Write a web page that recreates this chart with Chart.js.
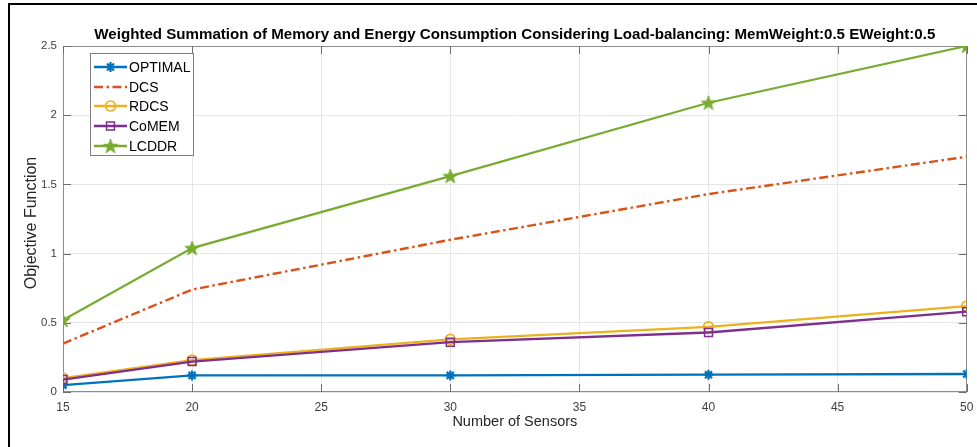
<!DOCTYPE html>
<html>
<head>
<meta charset="utf-8">
<script src="https://cdn.jsdelivr.net/npm/chart.js@4/dist/chart.umd.min.js"></script>
<style>
  html, body { margin: 0; padding: 0; background: #ffffff; }
  #wrap { position: relative; width: 977px; height: 447px; }
</style>
</head>
<body>
<div id="wrap"><canvas id="c" width="977" height="447"></canvas></div>
<script>
// Number of sensors on the x axis
const sensors = [15, 20, 30, 40, 50];
// Objective function values for each scheme
const optimal = [0.05, 0.12, 0.12, 0.125, 0.13];
const dcs     = [0.35, 0.74, 1.10, 1.43, 1.70];
const rdcs    = [0.10, 0.23, 0.38, 0.47, 0.62];
const comem   = [0.09, 0.22, 0.36, 0.43, 0.58];
const lcddr   = [0.52, 1.04, 1.56, 2.09, 2.50];
const seriesNames = ['OPTIMAL', 'DCS', 'RDCS', 'CoMEM', 'LCDDR'];
const xTicks = [15, 20, 25, 30, 35, 40, 45, 50];
const yTicks = [0, 0.5, 1, 1.5, 2, 2.5];

const titleText = 'Weighted Summation of Memory and Energy Consumption Considering Load-balancing: MemWeight:0.5 EWeight:0.5';
const xLabel = 'Number of Sensors';
const yLabel = 'Objective Function';
const FONT = '"Liberation Sans", Arial, Helvetica, sans-serif';

// filled five-pointed star marker
function makePentagram(size, color) {
  const cv = document.createElement('canvas');
  cv.width = size; cv.height = size;
  const g = cv.getContext('2d');
  const cx = size / 2, cy = size / 2 + 0.6;
  const R = size / 2 - 0.5, r = R * 0.4;
  g.beginPath();
  for (let i = 0; i < 10; i++) {
    const rad = i % 2 === 0 ? R : r;
    const a = -Math.PI / 2 + i * Math.PI / 5;
    const px = cx + rad * Math.cos(a), py = cy + rad * Math.sin(a);
    if (i === 0) g.moveTo(px, py); else g.lineTo(px, py);
  }
  g.closePath();
  g.fillStyle = color;
  g.fill();
  g.strokeStyle = color;
  g.lineWidth = 1;
  g.stroke();
  return cv;
}

const C_OPT = '#0072BD', C_DCS = '#D95319', C_RDCS = '#EDB120', C_COM = '#7E2F8E', C_LCD = '#77AC30';
const starImg = makePentagram(16, C_LCD);

function pts(vals) { return vals.map((v, i) => ({ x: sensors[i], y: v })); }

const datasets = [
  { label: seriesNames[0], data: pts(optimal), borderColor: C_OPT, backgroundColor: C_OPT,
    pointStyle: 'star', pointRadius: 5, pointBorderWidth: 2.2, borderWidth: 2.3, order: 4 },
  { label: seriesNames[1], data: pts(dcs), borderColor: C_DCS, backgroundColor: C_DCS,
    borderDash: [9, 3.5, 2.5, 3.5], pointRadius: 0, borderWidth: 2.4, order: 3 },
  { label: seriesNames[2], data: pts(rdcs), borderColor: C_RDCS, backgroundColor: 'rgba(0,0,0,0)',
    pointStyle: 'circle', pointRadius: 5, pointBorderWidth: 1.7, borderWidth: 2.3, order: 2 },
  { label: seriesNames[3], data: pts(comem), borderColor: C_COM, backgroundColor: 'rgba(0,0,0,0)',
    pointStyle: 'rect', pointRadius: 5.6, pointBorderWidth: 1.5, borderWidth: 2.3, order: 1 },
  { label: seriesNames[4], data: pts(lcddr), borderColor: C_LCD, backgroundColor: C_LCD,
    pointStyle: starImg, pointRadius: 8, borderWidth: 2.3, order: 0 }
];
datasets.forEach(d => { d.fill = false; d.tension = 0; d.pointHoverRadius = d.pointRadius; });

const AXIS = '#8c8c8c', TICKTXT = '#404040', GRID = '#e6e6e6';

const framePlugin = {
  id: 'frame',
  beforeDatasetsDraw(chart) {
    const { ctx, chartArea: a, scales } = chart;
    ctx.save();
    ctx.strokeStyle = AXIS;
    ctx.lineWidth = 1;
    // full axes box
    ctx.strokeRect(Math.round(a.left) + 0.5, Math.round(a.top) + 0.5,
                   Math.round(a.right - a.left) - 1, Math.round(a.bottom - a.top) - 1);
    // inward tick marks on all four sides
    ctx.strokeStyle = '#6e6e6e';
    const tl = 8;
    xTicks.forEach(v => {
      const x = Math.round(scales.x.getPixelForValue(v)) + 0.5;
      ctx.beginPath();
      ctx.moveTo(x, a.bottom); ctx.lineTo(x, a.bottom - tl);
      ctx.moveTo(x, a.top); ctx.lineTo(x, a.top + tl);
      ctx.stroke();
    });
    yTicks.forEach(v => {
      const y = Math.round(scales.y.getPixelForValue(v)) + 0.5;
      ctx.beginPath();
      ctx.moveTo(a.left, y); ctx.lineTo(a.left + tl, y);
      ctx.moveTo(a.right, y); ctx.lineTo(a.right - tl, y);
      ctx.stroke();
    });
    ctx.restore();
  },
  afterDraw(chart) {
    const { ctx, chartArea: a } = chart;
    ctx.save();
    // title, fitted across the plot
    ctx.font = 'bold 14px ' + FONT;
    ctx.fillStyle = '#000000';
    ctx.textBaseline = 'middle';
    ctx.textAlign = 'center';
    const tw = ctx.measureText(titleText).width;
    const target = 841;
    const cx = (a.left + a.right) / 2;
    ctx.save();
    ctx.translate(cx, 35);
    ctx.scale(target / tw, 1);
    ctx.fillText(titleText, 0, 0);
    ctx.restore();

    // axis titles
    ctx.fillStyle = '#262626';
    ctx.font = '14.5px ' + FONT;
    ctx.fillText(xLabel, cx, 422);
    ctx.save();
    ctx.translate(32, (a.top + a.bottom) / 2 + 4);
    ctx.rotate(-Math.PI / 2);
    ctx.font = '16px ' + FONT;
    ctx.fillText(yLabel, 0, 0);
    ctx.restore();

    // legend
    const lx = 90, ly = 53, lw = 103, lh = 102;
    ctx.fillStyle = '#ffffff';
    ctx.fillRect(lx, ly, lw, lh);
    ctx.strokeStyle = '#808080';
    ctx.lineWidth = 1;
    ctx.strokeRect(lx + 0.5, ly + 0.5, lw, lh);
    const rowY = [67, 87, 106, 126, 146];
    chart.data.datasets.forEach((d, i) => {
      const y = rowY[i];
      ctx.save();
      ctx.strokeStyle = d.borderColor;
      ctx.lineWidth = d.borderWidth;
      ctx.setLineDash(d.borderDash || []);
      ctx.beginPath();
      ctx.moveTo(94, y); ctx.lineTo(127, y);
      ctx.stroke();
      ctx.setLineDash([]);
      if (d.pointRadius > 0) {
        ctx.fillStyle = d.backgroundColor;
        ctx.strokeStyle = d.borderColor;
        ctx.lineWidth = d.pointBorderWidth || 1;
        Chart.helpers.drawPoint(ctx, {
          pointStyle: d.pointStyle, radius: d.pointRadius, rotation: 0,
          borderWidth: d.pointBorderWidth || 1
        }, 110.5, y);
      }
      ctx.restore();
      ctx.font = '14px ' + FONT;
      ctx.fillStyle = '#000000';
      ctx.textAlign = 'left';
      ctx.textBaseline = 'middle';
      ctx.fillText(d.label, 129, y + 1);
    });

    // outer black frame on the left and top
    ctx.fillStyle = '#000000';
    ctx.fillRect(8, 3, 2, 447 - 3);
    ctx.fillRect(8, 3, 977 - 8, 2);
    ctx.restore();
  }
};

new Chart(document.getElementById('c'), {
  type: 'line',
  data: { datasets },
  options: {
    responsive: false,
    animation: false,
    devicePixelRatio: 1,
    layout: { padding: { top: 46, right: 0, bottom: 0, left: 0 } },
    plugins: { legend: { display: false }, title: { display: false }, tooltip: { enabled: false } },
    scales: {
      x: {
        type: 'linear', min: 15, max: 50,
        afterFit(s) { s.height = 55; s.paddingRight = 10; },
        afterBuildTicks(s) { s.ticks = xTicks.map(v => ({ value: v })); },
        grid: { color: GRID, drawTicks: false },
        border: { display: false },
        ticks: { color: TICKTXT, font: { family: FONT, size: 12 }, padding: 8, maxRotation: 0 }
      },
      y: {
        min: 0, max: 2.5,
        afterFit(s) { s.width = 63; },
        afterBuildTicks(s) { s.ticks = yTicks.map(v => ({ value: v })); },
        grid: { color: GRID, drawTicks: false },
        border: { display: false },
        ticks: { color: TICKTXT, font: { family: FONT, size: 11.5 }, padding: 6,
                 callback: v => String(v) }
      }
    }
  },
  plugins: [framePlugin]
});
</script>
</body>
</html>
